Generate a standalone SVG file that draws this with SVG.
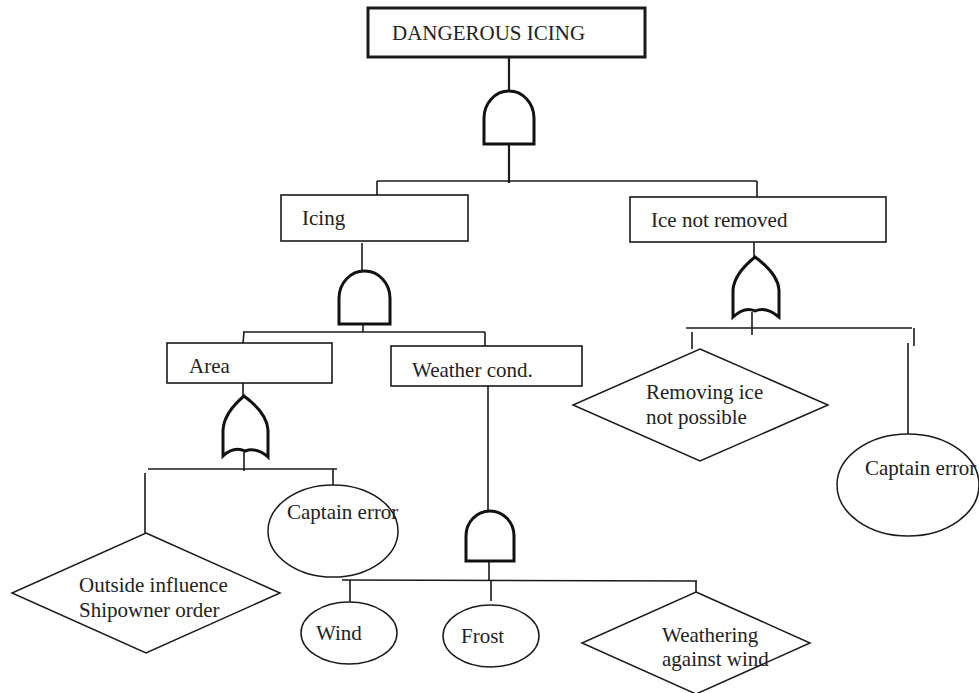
<svg xmlns="http://www.w3.org/2000/svg" width="979" height="693" viewBox="0 0 979 693">
<style>
  .box{fill:#fff;stroke:#1a1a1a;stroke-width:1.6}
  .topbox{fill:#fff;stroke:#1a1a1a;stroke-width:3}
  .shape{fill:#fff;stroke:#1a1a1a;stroke-width:1.5}
  .gate{fill:#fff;stroke:#111;stroke-width:3;stroke-linejoin:miter}
  .ln{fill:none;stroke:#1a1a1a;stroke-width:1.6}
  .lnb{fill:none;stroke:#1a1a1a;stroke-width:2.2}
  text{font-family:"Liberation Serif","Times New Roman",serif;font-size:21px;fill:#222}
</style>
<rect width="979" height="693" fill="#fff"/>

<g id="connectors">
  <line class="lnb" x1="509" y1="57" x2="509" y2="92"/>
  <line class="lnb" x1="509" y1="144" x2="509" y2="183"/>
  <line class="ln" x1="377" y1="181" x2="757" y2="181"/>
  <line class="ln" x1="377" y1="181" x2="377" y2="195"/>
  <line class="ln" x1="757" y1="181" x2="757" y2="197"/>

  <line class="ln" x1="362" y1="243" x2="362" y2="271"/>
  <line class="ln" x1="363" y1="324" x2="363" y2="332"/>
  <line class="ln" x1="243" y1="332" x2="485" y2="332"/>
  <line class="ln" x1="244" y1="332" x2="243" y2="343"/>
  <line class="ln" x1="485" y1="332" x2="485" y2="346"/>

  <line class="ln" x1="243" y1="383" x2="243" y2="396"/>
  <line class="ln" x1="244" y1="450" x2="244" y2="471"/>
  <line class="ln" x1="148" y1="469" x2="337" y2="469"/>
  <line class="ln" x1="145" y1="473" x2="145" y2="533"/>
  <line class="ln" x1="333" y1="469" x2="333" y2="488"/>

  <line class="ln" x1="488" y1="386" x2="488" y2="511"/>
  <line class="ln" x1="489" y1="561" x2="489" y2="581"/>
  <line class="ln" x1="342" y1="580" x2="697" y2="581"/>
  <line class="ln" x1="350" y1="580" x2="350" y2="602"/>
  <line class="ln" x1="491" y1="581" x2="491" y2="601"/>
  <line class="ln" x1="696" y1="581" x2="696" y2="593"/>

  <line class="ln" x1="754" y1="237" x2="754" y2="258"/>
  <line class="ln" x1="752" y1="312" x2="752" y2="335"/>
  <line class="ln" x1="686" y1="328" x2="912" y2="328"/>
  <line class="ln" x1="692" y1="332" x2="692" y2="349"/>
  <line class="ln" x1="914" y1="328" x2="914" y2="346"/>
  <line class="ln" x1="908" y1="343" x2="908" y2="434"/>
</g>

<g id="gate-and-top">
  <path class="gate" d="M484 144 L484 118 A25 27 0 0 1 534 118 L534 144 Z"/>
</g>
<g id="gate-and-icing">
  <path class="gate" d="M339 324 L339 298 A25.5 27 0 0 1 390 298 L390 324 Z"/>
</g>
<g id="gate-and-weather">
  <path class="gate" d="M466 561 L466 536 A24 25 0 0 1 514 536 L514 561 Z"/>
</g>
<g id="gate-or-ice">
  <path class="gate" d="M733 317 L733 290 Q734 274 755 257 Q778 274 779 290 L779 317 Q766 306 755 311 Q745 306 733 317 Z"/>
</g>
<g id="gate-or-area">
  <path class="gate" d="M223 456 L223 430 Q224 413 244 396 Q267 413 268 430 L268 457 Q257 447 245 451 Q234 446 223 456 Z"/>
</g>

<g id="node-dangerous-icing">
  <rect class="topbox" x="368" y="8" width="277" height="49"/>
  <text x="392" y="40">DANGEROUS ICING</text>
</g>
<g id="node-icing">
  <rect class="box" x="281" y="195" width="187" height="46"/>
  <text x="302" y="225">Icing</text>
</g>
<g id="node-ice-not-removed">
  <rect class="box" x="630" y="197" width="256" height="45"/>
  <text x="651" y="227">Ice not removed</text>
</g>
<g id="node-area">
  <rect class="box" x="167" y="343" width="165" height="40"/>
  <text x="189" y="373">Area</text>
</g>
<g id="node-weather-cond">
  <rect class="box" x="391" y="346" width="191" height="40"/>
  <text x="412" y="377">Weather cond.</text>
</g>
<g id="node-removing-ice">
  <polygon class="shape" points="700,349 828,405 700,461 573,405"/>
  <text x="646" y="399">Removing ice</text>
  <text x="646" y="424">not possible</text>
</g>
<g id="node-captain-error-right">
  <ellipse class="shape" cx="908" cy="485" rx="71" ry="51"/>
  <text x="865" y="475">Captain error</text>
</g>
<g id="node-outside-influence">
  <polygon class="shape" points="146,533 280,593 146,653 12,593"/>
  <text x="79" y="592">Outside influence</text>
  <text x="79" y="617">Shipowner order</text>
</g>
<g id="node-captain-error-left">
  <ellipse class="shape" cx="333" cy="531" rx="65" ry="46"/>
  <text x="287" y="519">Captain error</text>
</g>
<g id="node-wind">
  <ellipse class="shape" cx="349" cy="633" rx="48" ry="31"/>
  <text x="316" y="640">Wind</text>
</g>
<g id="node-frost">
  <ellipse class="shape" cx="491" cy="636" rx="48" ry="31"/>
  <text x="461" y="643">Frost</text>
</g>
<g id="node-weathering">
  <polygon class="shape" points="696,592 810,643 696,694 582,643"/>
  <text x="662" y="642">Weathering</text>
  <text x="662" y="666">against wind</text>
</g>
</svg>
